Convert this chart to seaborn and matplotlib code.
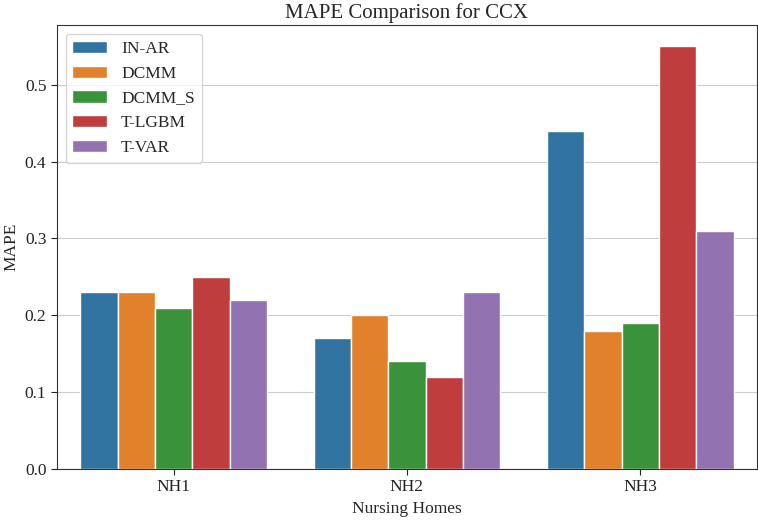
import matplotlib
matplotlib.use("Agg")
import pandas as pd
import matplotlib.pyplot as plt
import seaborn as sns

homes = ["NH1", "NH2", "NH3"]
models = ["IN-AR", "DCMM", "DCMM_S", "T-LGBM", "T-VAR"]
in_ar = [0.23, 0.17, 0.44]
dcmm = [0.23, 0.20, 0.18]
dcmm_s = [0.21, 0.14, 0.19]
t_lgbm = [0.25, 0.12, 0.55]
t_var = [0.22, 0.23, 0.31]

dados = []
for serie, nome in zip([in_ar, dcmm, dcmm_s, t_lgbm, t_var], models):
    for casa, v in zip(homes, serie):
        dados.append({'Nursing Homes': casa, 'Model': nome, 'MAPE': v})
df = pd.DataFrame(dados)

sns.set_style("whitegrid")
plt.rcParams['font.family'] = ['Liberation Serif', 'DejaVu Serif']
plt.rcParams['axes.edgecolor'] = '#333333'
plt.rcParams['xtick.bottom'] = True
plt.rcParams['ytick.left'] = True
plt.rcParams['xtick.color'] = '#222222'
plt.rcParams['ytick.color'] = '#222222'

fig, ax = plt.subplots(figsize=(7.58, 5.22), dpi=100)
sns.barplot(data=df, x='Nursing Homes', y='MAPE', hue='Model', ax=ax)
ax.grid(axis='x', visible=False)
ax.set_title('MAPE Comparison for CCX', fontsize=15, pad=5)
ax.set_xlabel('Nursing Homes', fontsize=12.5)
ax.set_ylabel('MAPE', fontsize=12.5)
ax.tick_params(labelsize=12.5, length=4)
ax.legend(loc='upper left', fontsize=12.5, title=None)
fig.subplots_adjust(left=0.075, right=0.9987, top=0.952, bottom=0.1015)
plt.savefig('out.png', dpi=100)
